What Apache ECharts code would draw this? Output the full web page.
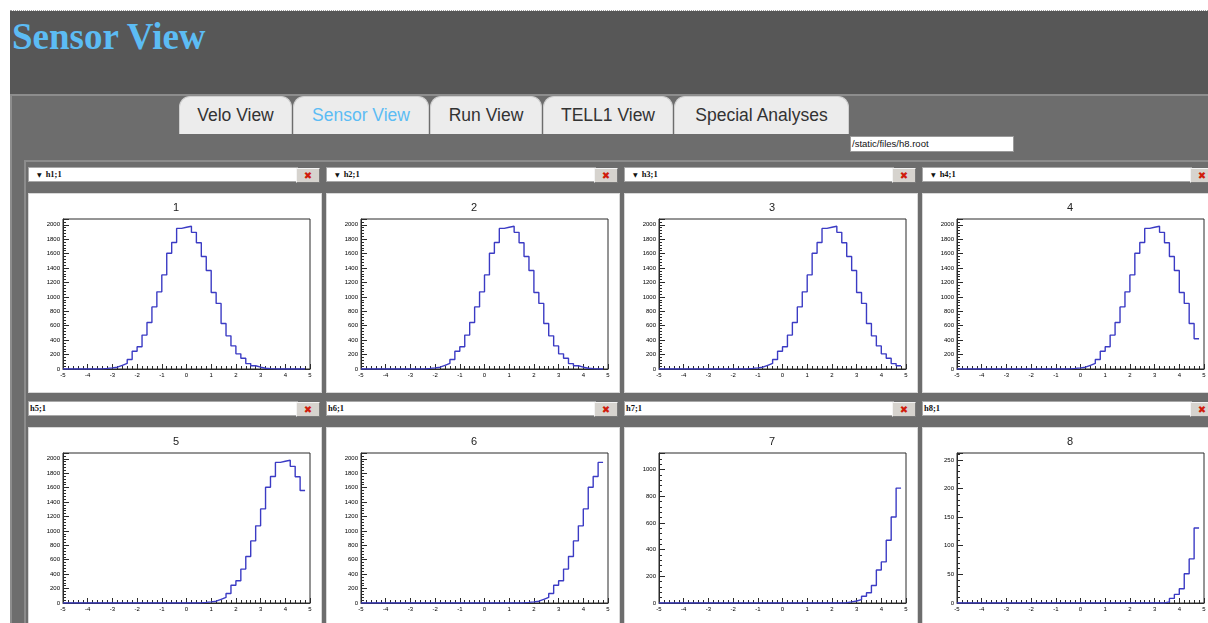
<!DOCTYPE html>
<html><head><meta charset="utf-8">
<script src="https://cdn.jsdelivr.net/npm/echarts@6/dist/echarts.min.js"></script>
<style>
html,body{margin:0;padding:0;width:1208px;height:623px;overflow:hidden;background:#fff;font-family:"Liberation Sans",Arial,sans-serif;}
.abs{position:absolute;}
#dots{left:10px;top:10px;width:1198px;height:0;border-top:1px dotted #9a9a9a;}
#head{left:10px;top:11px;width:1198px;height:84px;background:#575757;}
#title{left:12px;top:18px;font:bold 37px/37px "Liberation Serif","Times New Roman",serif;color:#5cbcf4;white-space:nowrap;}
#content{left:10px;top:94px;width:1210px;height:540px;background:#6d6d6d;border-top:2px solid #8d8d8d;border-left:2px solid #8d8d8d;box-sizing:border-box;}
.tab{top:96px;height:38px;background:#ececec;border:1px solid #cfcfcf;border-bottom:none;border-radius:11px 11px 0 0;box-sizing:border-box;text-align:center;font-size:17.5px;line-height:36px;color:#333;white-space:nowrap;}
.tab.active{color:#5cbcf4;}
#file{left:850px;top:136px;width:164px;height:16px;background:#fff;border:1px solid #9a9a9a;box-sizing:border-box;font-size:9.5px;line-height:14px;color:#111;padding-left:1px;white-space:nowrap;overflow:hidden;}
#panels{left:24px;top:160px;width:1200px;height:480px;background:#6d6d6d;border-top:2px solid #8c8c8c;border-left:2px solid #8c8c8c;box-sizing:border-box;}
.hbar{height:15px;background:#fff;border:1px solid #a8a8a8;box-sizing:border-box;font:bold 8.5px/13px "Liberation Serif","Times New Roman",serif;color:#111;white-space:nowrap;}
.hbar .arr{display:inline-block;font:6px/13px "DejaVu Sans",sans-serif;margin:0 4px 0 8px;color:#111;}
.btn{width:24px;height:15px;background:#d6d3ce;border:1px solid;border-color:#f4f4f4 #7a7a7a #7a7a7a #f4f4f4;box-sizing:border-box;text-align:center;font:bold 10px/13px "DejaVu Sans",sans-serif;color:#d01c0c;}
.box{width:294px;height:200px;background:#fff;border:1px solid #d8d8d8;box-sizing:border-box;}
.chart{position:absolute;left:0;top:0;width:294px;height:200px;}
</style></head>
<body>
<div id="dots" class="abs"></div>
<div id="head" class="abs"></div>
<div id="title" class="abs">Sensor View</div>
<div id="content" class="abs"></div>
<div id="tabs"></div>
<div id="file" class="abs">/static/files/h8.root</div>
<div id="panels" class="abs"></div>
<div id="grid"></div>
<script>
// ---- data ----
const tabNames = ['Velo View', 'Sensor View', 'Run View', 'TELL1 View', 'Special Analyses'];
const activeTab = 'Sensor View';
const histNames = ['h1;1', 'h2;1', 'h3;1', 'h4;1', 'h5;1', 'h6;1', 'h7;1', 'h8;1'];
const plotTitles = ['1', '2', '3', '4', '5', '6', '7', '8'];
const xBinStart = -5;
const binWidth = 0.2;
const xAxisRange = [-5, 5];
const xTickStep = 1;

const h1 = [0,0,0,0,0,0,0,2,8,15,
  25,51,77,131,247,308,470,644,861,1070,
  1305,1605,1755,1950,1965,1980,1895,1750,1560,1365,
  1060,910,630,460,320,210,150,75,45,25,
  10,5,2,0,0,0,0,0,0];
const h2 = [0,0,0,0,0,0,0,0,0,0,
  0,0,2,8,15,25,51,77,131,247,
  308,470,644,861,1070,1305,1605,1755,1950,1965,
  1980,1895,1750,1560,1365,1060,910,630,460,320,
  210,150,75,45,25,10,5,2,0];
const h3 = [0,0,0,0,0,0,0,0,0,0,
  0,0,0,0,0,0,0,2,8,15,
  25,51,77,131,247,308,470,644,861,1070,
  1305,1605,1755,1950,1965,1980,1895,1750,1560,1365,
  1060,910,630,460,320,210,150,75,45];
const h4 = [0,0,0,0,0,0,0,0,0,0,
  0,0,0,0,0,0,0,0,0,0,
  0,0,2,8,15,25,51,77,131,247,
  308,470,644,861,1070,1305,1605,1755,1950,1965,
  1980,1895,1750,1560,1365,1060,910,630,420];
const h5 = [0,0,0,0,0,0,0,0,0,0,
  0,0,0,0,0,0,0,0,0,0,
  0,0,0,0,0,0,0,2,8,15,
  25,51,77,131,247,308,470,644,861,1070,
  1305,1605,1755,1950,1965,1980,1895,1750,1560];
const h6 = [0,0,0,0,0,0,0,0,0,0,
  0,0,0,0,0,0,0,0,0,0,
  0,0,0,0,0,0,0,0,0,0,
  0,0,2,8,15,25,51,77,131,247,
  308,470,644,861,1070,1305,1605,1755,1950];
const h7 = [0,0,0,0,0,0,0,0,0,0,
  0,0,0,0,0,0,0,0,0,0,
  0,0,0,0,0,0,0,0,0,0,
  0,0,0,0,0,0,0,2,8,15,
  25,51,77,131,247,308,470,644,861];
const h8 = [0,0,0,0,0,0,0,0,0,0,
  0,0,0,0,0,0,0,0,0,0,
  0,0,0,0,0,0,0,0,0,0,
  0,0,0,0,0,0,0,0,0,0,
  0,0,2,8,15,25,51,77,131];
const histValues = [h1, h2, h3, h4, h5, h6, h7, h8];
const yAxisMax = [2080, 2080, 2080, 2080, 2080, 2080, 1124, 262];
const yTickStep = [200, 200, 200, 200, 200, 200, 200, 50];

// ---- layout (page chrome) ----
const tabEdges = [[179, 292], [293, 429], [430, 542], [543, 673], [674, 849]];
const tabsEl = document.getElementById('tabs');
tabNames.forEach((n, i) => {
  const d = document.createElement('div');
  d.className = 'abs tab' + (n === activeTab ? ' active' : '');
  d.style.left = tabEdges[i][0] + 'px';
  d.style.width = (tabEdges[i][1] - tabEdges[i][0]) + 'px';
  d.textContent = n;
  tabsEl.appendChild(d);
});

const gridEl = document.getElementById('grid');
const colX0 = 28, colStep = 298, rowStep = 234;
const charts = [];
histNames.forEach((name, k) => {
  const r = Math.floor(k / 4), c = k % 4;
  const x0 = colX0 + c * colStep;
  const hb = document.createElement('div');
  hb.className = 'abs hbar';
  hb.style.left = x0 + 'px';
  hb.style.top = (167 + r * rowStep) + 'px';
  hb.style.width = '270px';
  if (r === 0) {
    const a = document.createElement('span');
    a.className = 'arr'; a.textContent = '\u25BC';
    hb.appendChild(a);
  } else {
    hb.style.paddingLeft = '1px';
  }
  hb.appendChild(document.createTextNode(name));
  gridEl.appendChild(hb);
  const b = document.createElement('div');
  b.className = 'abs btn';
  b.style.left = (x0 + 268) + 'px';
  b.style.top = (168 + r * rowStep) + 'px';
  b.textContent = '\u2716';
  gridEl.appendChild(b);
  const box = document.createElement('div');
  box.className = 'abs box';
  box.style.left = x0 + 'px';
  box.style.top = (193 + r * rowStep) + 'px';
  const ch = document.createElement('div');
  ch.className = 'chart';
  box.appendChild(ch);
  gridEl.appendChild(box);
  charts.push(ch);
});

// ---- charts ----
const axisColor = '#2a2a2a';
const plain = v => String(v);
histValues.forEach((vals, k) => {
  const pts = vals.map((v, i) => [+(xBinStart + i * binWidth).toFixed(4), v]);
  pts.push([+(xBinStart + vals.length * binWidth).toFixed(4), vals[vals.length - 1]]);
  const chart = echarts.init(charts[k], null, { renderer: 'canvas' });
  chart.setOption({
    animation: false,
    title: {
      text: plotTitles[k], left: 'center', top: 3,
      textStyle: { fontSize: 11, fontWeight: 'normal', color: '#222', fontFamily: 'Liberation Sans' }
    },
    grid: {
      left: 34, right: 13, top: 25, bottom: 25, show: true,
      borderColor: axisColor, borderWidth: 1, containLabel: false, outerBoundsMode: 'none'
    },
    xAxis: {
      type: 'value', min: xAxisRange[0], max: xAxisRange[1], interval: xTickStep,
      axisLine: { show: true, onZero: false, lineStyle: { color: axisColor, width: 1 } },
      axisTick: { show: true, inside: true, length: 5, lineStyle: { color: axisColor } },
      minorTick: { show: true, splitNumber: 5, length: 3, lineStyle: { color: axisColor } },
      axisLabel: { fontSize: 6, color: '#000', margin: 3, fontFamily: 'Liberation Sans', formatter: plain },
      splitLine: { show: false }, minorSplitLine: { show: false }
    },
    yAxis: {
      type: 'value', min: 0, max: yAxisMax[k], interval: yTickStep[k],
      axisLine: { show: true, onZero: false, lineStyle: { color: axisColor, width: 1 } },
      axisTick: { show: true, inside: true, length: 6, lineStyle: { color: axisColor } },
      minorTick: { show: true, splitNumber: 5, length: 3, lineStyle: { color: axisColor } },
      axisLabel: { fontSize: 6, color: '#000', margin: 3, showMaxLabel: false, fontFamily: 'Liberation Sans', formatter: plain },
      splitLine: { show: false }, minorSplitLine: { show: false }
    },
    series: [{
      type: 'line', step: 'end', data: pts, symbol: 'none', clip: true,
      lineStyle: { color: '#3b3bc4', width: 1.4 }
    }]
  });
});
</script>
</body></html>
